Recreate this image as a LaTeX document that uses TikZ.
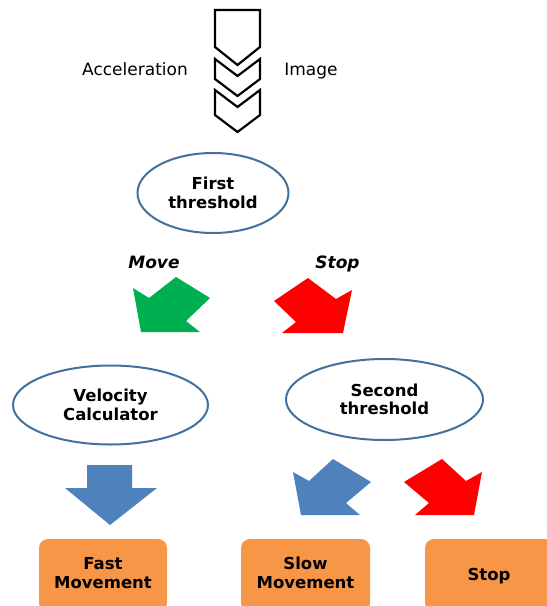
\documentclass[tikz,border=0pt]{standalone}
\usepackage{fontspec}
\setmainfont{DejaVu Sans}
\usetikzlibrary{shapes.geometric}
\definecolor{eBorder}{HTML}{41719C}
\definecolor{oFill}{HTML}{F79646}
\definecolor{bFill}{HTML}{4F81BD}
\definecolor{gFill}{HTML}{00B050}
\definecolor{rFill}{HTML}{FF0000}
\tikzset{
  ell/.style={ellipse, draw=eBorder, line width=2pt, fill=white, align=center,
    font=\fontsize{16.5}{18.5}\selectfont\bfseries, inner sep=0pt},
  obox/.style={fill=oFill, rounded corners=9pt, align=center,
    font=\fontsize{16.5}{19}\selectfont\bfseries},
  lbl/.style={font=\fontsize{17}{19}\selectfont, anchor=base},
  ilbl/.style={font=\fontsize{17}{19}\selectfont\bfseries\itshape, anchor=base},
  chev/.style={draw=black, line width=2.2pt, line join=miter, fill=none},
}
\begin{document}
\begin{tikzpicture}[x=1pt,y=-1pt]
\useasboundingbox (0,0) rectangle (547,606);
% chevrons
\draw[chev] (215,10) -- (260,10) -- (260,47) -- (237.5,65) -- (215,47) -- cycle;
\draw[chev] (215,59) -- (237.5,76) -- (260,59) -- (260,79) -- (237.5,96) -- (215,79) -- cycle;
\draw[chev] (215,90) -- (237.5,107) -- (260,90) -- (260,115) -- (237.5,132) -- (215,115) -- cycle;
\node[lbl] (acc) at (135,75) {Acceleration};
\node[lbl] (img) at (311,75) {Image};
% first threshold
\node[ell, minimum width=151pt, minimum height=80pt] (ft) at (213,193) {First\\threshold};
\node[ilbl] (move) at (154,268) {Move};
\node[ilbl] (stopl) at (337.5,268) {Stop};
% green and red arrows
\fill[gFill] (133,288) -- (149,298) -- (176,277) -- (210,298) -- (186,321) -- (200,332) -- (141,332) -- cycle;
\fill[rFill] (352,290) -- (336,299) -- (308,278) -- (274,301) -- (296,322) -- (282,333) -- (343,333) -- cycle;
% second row ellipses
\node[ell, minimum width=195pt, minimum height=79pt] (vc) at (110.5,405) {Velocity\\Calculator};
\node[ell, minimum width=197pt, minimum height=81pt] (st) at (384.5,399.5) {Second\\threshold};
% blue down arrow
\fill[bFill] (87,465) -- (132,465) -- (132,488) -- (157,488) -- (110,525) -- (65,488) -- (87,488) -- cycle;
% blue diagonal arrow
\fill[bFill] (293,472) -- (309,481) -- (333,459) -- (371,482) -- (346,503) -- (360,515) -- (301,515) -- cycle;
% red diagonal arrow
\fill[rFill] (482,472) -- (466,481) -- (442,459) -- (404,482) -- (429,503) -- (415,515) -- (474,515) -- cycle;
% boxes
\path[obox] (39,539) rectangle (167,612);
\node[obox, fill=none] (fast) at (103,573) {Fast\\Movement};
\path[obox] (241,539) rectangle (370,612);
\node[obox, fill=none] (slow) at (305.5,573) {Slow\\Movement};
\path[obox] (425,539) rectangle (560,612);
\node[obox, fill=none, anchor=base] (stop) at (489,580) {Stop};
\end{tikzpicture}
\end{document}
